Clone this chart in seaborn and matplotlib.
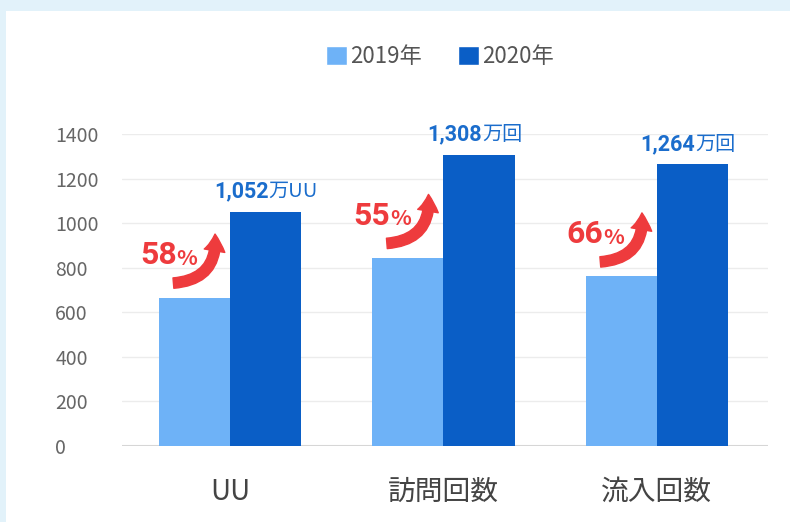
import matplotlib.pyplot as plt
from matplotlib.patches import Rectangle, Patch
import pandas as pd
import seaborn as sns

categories = ["UU", "訪問回数", "流入回数"]
years = ["2019年", "2020年"]
v2019 = [666, 844, 761]
v2020 = [1052, 1308, 1264]
growth = ["58", "55", "66"]
value_text = ["1,052", "1,308", "1,264"]
units = ["万UU", "万回", "万回"]
yticks = [0, 200, 400, 600, 800, 1000, 1200, 1400]

c19 = "#6EB2F7"
c20 = "#0A5EC6"
red = "#EE3B3D"
lblue = "#1B6DCC"

df = pd.DataFrame({
    "cat": categories * 2,
    "year": [years[0]] * 3 + [years[1]] * 3,
    "val": v2019 + v2020,
})

sns.set_theme(style="white")
plt.rcParams['font.family'] = ['Noto Sans CJK JP', 'DejaVu Sans']

fig = plt.figure(figsize=(7.9, 5.22), dpi=100)
fig.patch.set_facecolor("#E2F2FA")
# white card on the light blue background
fig.patches.append(Rectangle((6 / 790, 0), 1, 1 - 11 / 522, transform=fig.transFigure,
                             facecolor="white", edgecolor="none", zorder=-10))
ax = fig.add_axes([0.1544, 0.1456, 0.972 - 0.1544, 0.7433 - 0.1456])
ax.set_facecolor("none")

sns.barplot(data=df, x="cat", y="val", hue="year", palette=[c19, c20],
            width=0.667, gap=0, saturation=1, linewidth=0, ax=ax, legend=False, zorder=3)

ax.set_xlim(-0.506, 2.52)
ax.set_ylim(0, 1400)
ax.set_yticks(yticks)
for y in yticks[1:]:
    ax.axhline(y, color="#ececec", lw=1, zorder=1)
ax.axhline(0, color="#d6d6d6", lw=1.5, zorder=2)
for s in ax.spines.values():
    s.set_visible(False)
ax.set_xlabel("")
ax.set_ylabel("")
ax.tick_params(axis="y", length=0, pad=48, labelsize=14, labelcolor="#666666")
for t in ax.get_yticklabels():
    t.set_horizontalalignment("left")
ax.tick_params(axis="x", length=0, pad=22, labelsize=20, labelcolor="#444444")

for i in range(3):
    # value labels above 2020 bars
    ax.text(i + 0.18, v2020[i] + 42, value_text[i], ha="right", va="bottom",
            fontsize=15.5, fontweight="bold", color=lblue, family=["Roboto", "DejaVu Sans"])
    ax.text(i + 0.18, v2020[i] + 42, units[i], ha="left", va="bottom",
            fontsize=14.5, color=lblue)
    # growth percentage
    ax.text(i - 0.25, v2019[i] + 190, growth[i], ha="right", va="center",
            fontsize=23, fontweight="bold", color=red, family=["Roboto", "DejaVu Sans"])
    ax.text(i - 0.25, v2019[i] + 175, "%", ha="left", va="center",
            fontsize=15.5, fontweight="bold", color=red)
    ax.annotate("", xy=(i - 0.07, v2019[i] + 285), xytext=(i - 0.265, v2019[i] + 65),
                arrowprops=dict(arrowstyle="simple,head_width=1.0,head_length=0.8,tail_width=0.5",
                                connectionstyle="arc3,rad=0.5", color=red,
                                shrinkA=0, shrinkB=0, mutation_scale=15),
                zorder=5)

handles = [Patch(facecolor=c19, label=years[0]), Patch(facecolor=c20, label=years[1])]
fig.legend(handles=handles, loc="center", bbox_to_anchor=(0.557, 0.891), ncol=2,
           frameon=False, fontsize=16, handlelength=0.95, handleheight=0.95,
           handletextpad=0.15, columnspacing=1.6, labelcolor="#555555")

fig.savefig("out.png", dpi=100, facecolor=fig.get_facecolor())
